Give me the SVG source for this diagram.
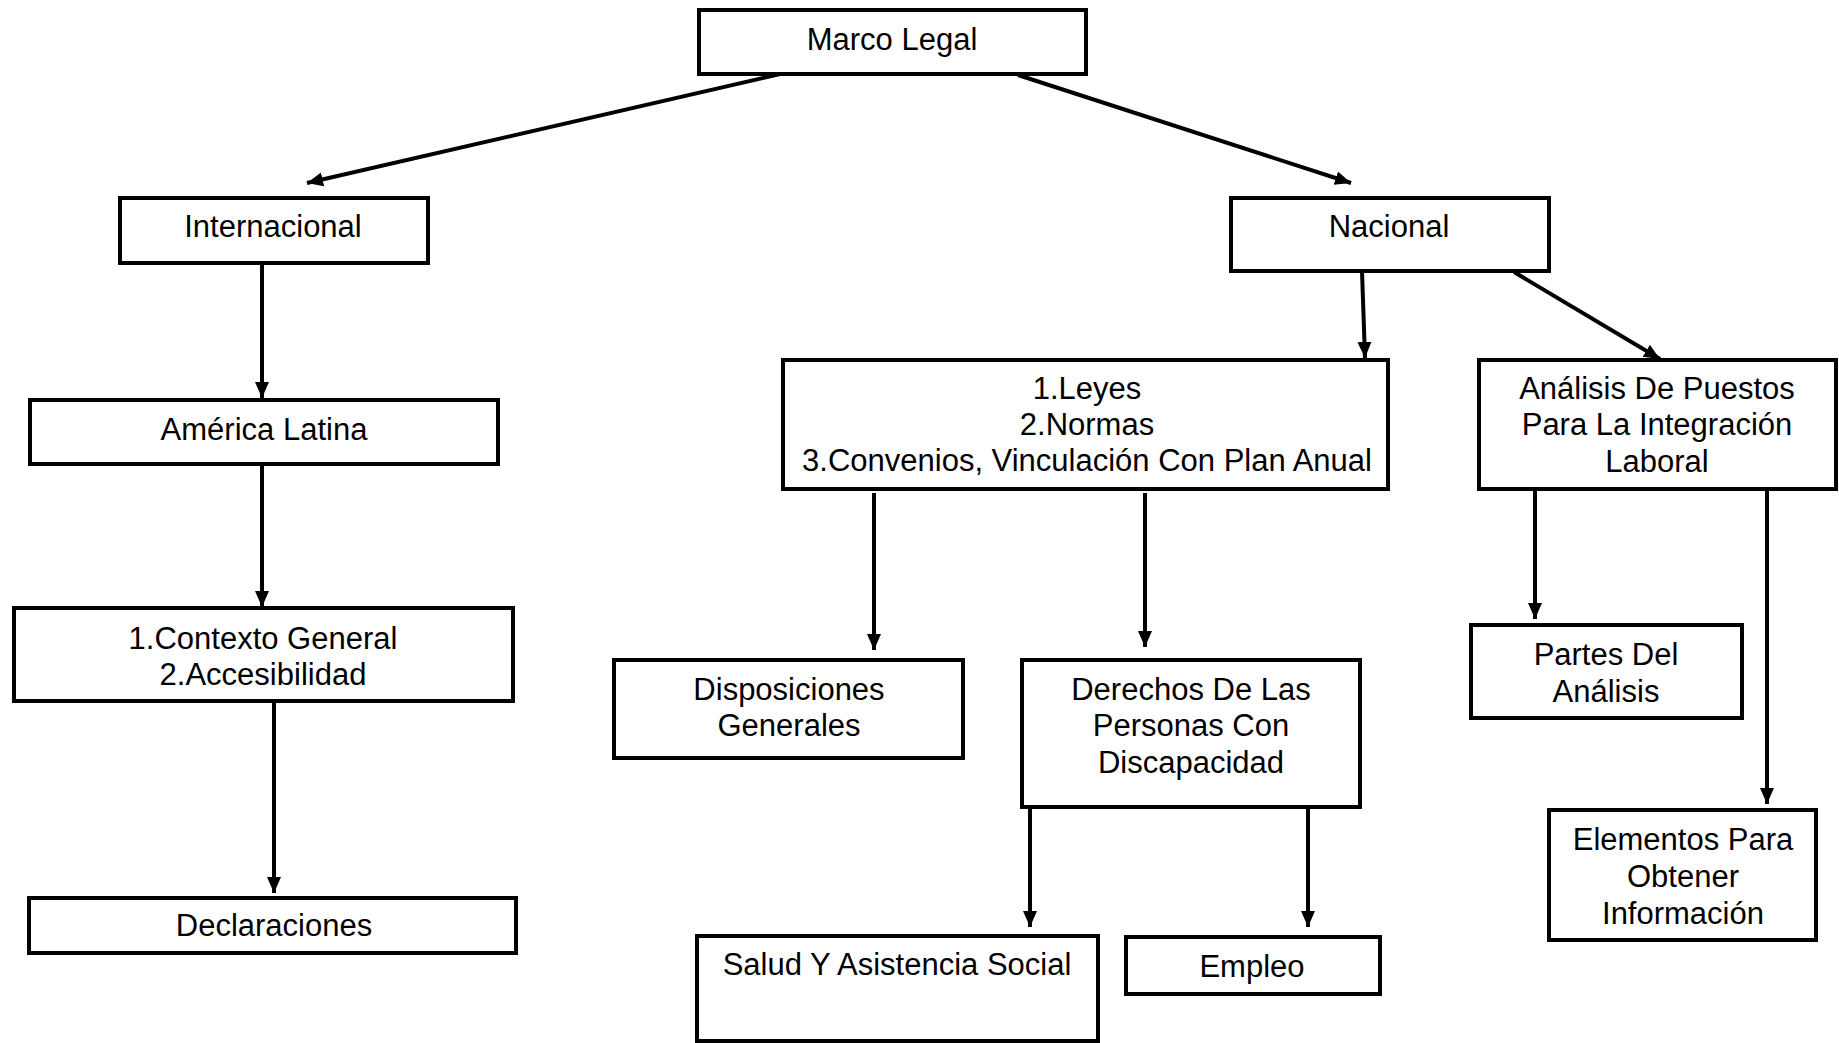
<svg xmlns="http://www.w3.org/2000/svg" width="1839" height="1043" viewBox="0 0 1839 1043">
<style>
.box{fill:#fff;stroke:#000;stroke-width:4}
.t{font-family:"Liberation Sans",Arial,sans-serif;font-size:31px;fill:#000;text-anchor:middle}
.c{stroke:#000;stroke-width:4;fill:none;marker-end:url(#ah)}
</style>
<defs>
<marker id="ah" markerUnits="userSpaceOnUse" markerWidth="17" markerHeight="17" viewBox="0 0 17 17" refX="16" refY="8.5" orient="auto">
<path d="M0,1.5 L16,8.5 L0,15.5 z" fill="#000"/>
</marker>
</defs>
<rect width="1839" height="1043" fill="#fff"/>
<g id="connectors">
<line class="c" x1="780" y1="74" x2="307" y2="183"/>
<line class="c" x1="1018" y1="75" x2="1351" y2="183"/>
<line class="c" x1="262" y1="263" x2="262" y2="398"/>
<line class="c" x1="262" y1="464" x2="262" y2="607"/>
<line class="c" x1="274" y1="701" x2="274" y2="893"/>
<line class="c" x1="1362" y1="271" x2="1365" y2="358"/>
<line class="c" x1="1514" y1="272" x2="1660" y2="359"/>
<line class="c" x1="874" y1="493" x2="874" y2="650"/>
<line class="c" x1="1145" y1="493" x2="1145" y2="647"/>
<line class="c" x1="1030" y1="807" x2="1030" y2="927"/>
<line class="c" x1="1308" y1="807" x2="1308" y2="927"/>
<line class="c" x1="1535" y1="489" x2="1535" y2="619"/>
<line class="c" x1="1767" y1="489" x2="1767" y2="804"/>
</g>
<g id="marco-legal"><rect class="box" x="699" y="10" width="387" height="64"/><text class="t" x="892" y="50">Marco Legal</text></g>
<g id="internacional"><rect class="box" x="120" y="198" width="308" height="65"/><text class="t" x="273" y="237">Internacional</text></g>
<g id="america-latina"><rect class="box" x="30" y="400" width="468" height="64"/><text class="t" x="264" y="440">América Latina</text></g>
<g id="contexto"><rect class="box" x="14" y="608" width="499" height="93"/><text class="t" x="263" y="649">1.Contexto General</text><text class="t" x="263" y="685">2.Accesibilidad</text></g>
<g id="declaraciones"><rect class="box" x="29" y="898" width="487" height="55"/><text class="t" x="274" y="936">Declaraciones</text></g>
<g id="nacional"><rect class="box" x="1231" y="198" width="318" height="73"/><text class="t" x="1389" y="237">Nacional</text></g>
<g id="leyes"><rect class="box" x="783" y="360" width="605" height="129"/><text class="t" x="1087" y="399">1.Leyes</text><text class="t" x="1087" y="435">2.Normas</text><text class="t" x="1087" y="471">3.Convenios, Vinculación Con Plan Anual</text></g>
<g id="analisis"><rect class="box" x="1479" y="360" width="357" height="129"/><text class="t" x="1657" y="399">Análisis De Puestos</text><text class="t" x="1657" y="435">Para La Integración</text><text class="t" x="1657" y="472">Laboral</text></g>
<g id="disposiciones"><rect class="box" x="614" y="660" width="349" height="98"/><text class="t" x="789" y="700">Disposiciones</text><text class="t" x="789" y="736">Generales</text></g>
<g id="derechos"><rect class="box" x="1022" y="660" width="338" height="147"/><text class="t" x="1191" y="700">Derechos De Las</text><text class="t" x="1191" y="736">Personas Con</text><text class="t" x="1191" y="773">Discapacidad</text></g>
<g id="salud"><rect class="box" x="697" y="936" width="401" height="105"/><text class="t" x="897" y="975">Salud Y Asistencia Social</text></g>
<g id="empleo"><rect class="box" x="1126" y="937" width="254" height="57"/><text class="t" x="1252" y="977">Empleo</text></g>
<g id="partes"><rect class="box" x="1471" y="625" width="271" height="93"/><text class="t" x="1606" y="665">Partes Del</text><text class="t" x="1606" y="702">Análisis</text></g>
<g id="elementos"><rect class="box" x="1549" y="810" width="267" height="130"/><text class="t" x="1683" y="850">Elementos Para</text><text class="t" x="1683" y="887">Obtener</text><text class="t" x="1683" y="924">Información</text></g>
</svg>
